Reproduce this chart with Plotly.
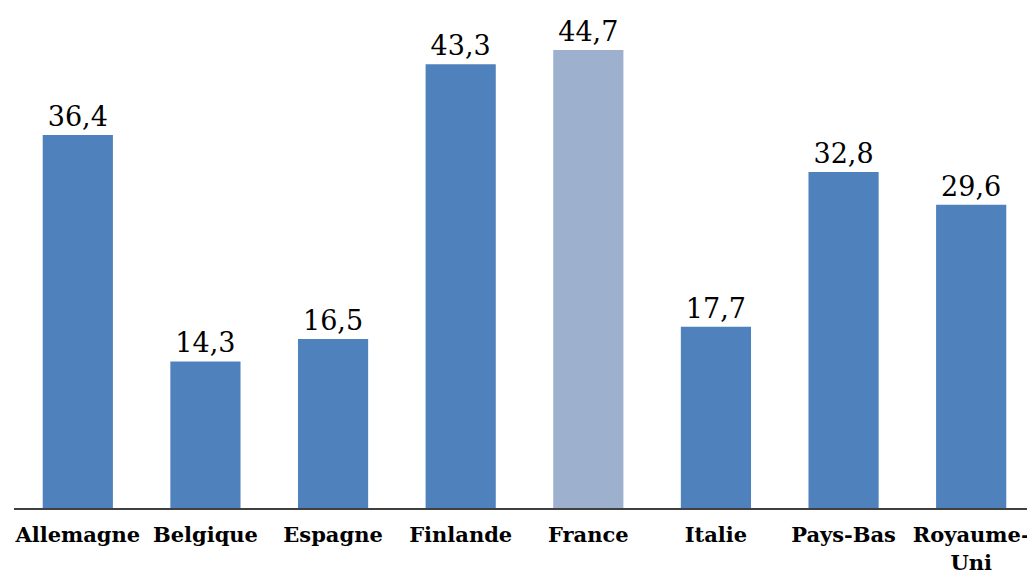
import plotly.graph_objects as go

categories = ["Allemagne", "Belgique", "Espagne", "Finlande", "France", "Italie", "Pays-Bas", "Royaume-Uni"]
tick_labels = ["Allemagne", "Belgique", "Espagne", "Finlande", "France", "Italie", "Pays-Bas", "Royaume-<br>Uni"]
values = [36.4, 14.3, 16.5, 43.3, 44.7, 17.7, 32.8, 29.6]
colors = ["#4F81BD", "#4F81BD", "#4F81BD", "#4F81BD", "#9DB0CE", "#4F81BD", "#4F81BD", "#4F81BD"]

fig = go.Figure(go.Bar(
    x=categories, y=values,
    marker=dict(color=colors, line=dict(width=0)),
    texttemplate="%{y:.1f}", textposition="outside",
    textfont=dict(family="DejaVu Serif", size=27, color="#000000"),
    cliponaxis=False,
))

fig.update_layout(
    width=1027, height=570,
    margin=dict(l=6, r=0, t=0, b=70, autoexpand=False),
    paper_bgcolor="white", plot_bgcolor="white",
    separators=", ",
    bargap=0.45,
    showlegend=False,
    xaxis=dict(
        tickmode="array", tickvals=categories, ticktext=tick_labels,
        tickfont=dict(family="DejaVu Serif", size=21, color="#000000", weight="bold"),
        showline=True, linecolor="#404040", linewidth=2,
        ticks="outside", ticklen=7, tickcolor="rgba(0,0,0,0)", showgrid=False,
        automargin=False,
    ),
    yaxis=dict(range=[0, 48.8], visible=False, showgrid=False, automargin=False),
)

fig.write_html("out.html")
